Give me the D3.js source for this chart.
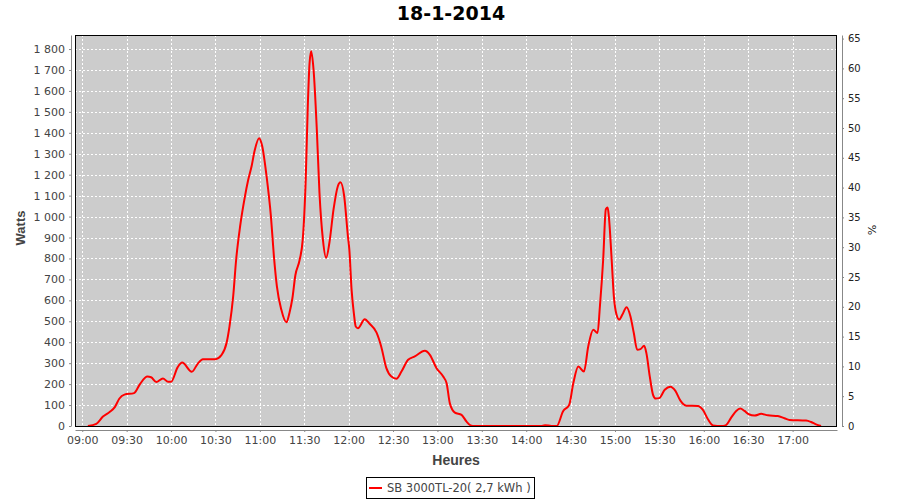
<!DOCTYPE html>
<html><head><meta charset="utf-8">
<script src="https://cdn.jsdelivr.net/npm/d3@7"></script>
<style>body{margin:0;background:#fff}svg{display:block}</style>
</head><body><svg id="c" width="900" height="500"></svg>
<script>
const title = "18-1-2014";
const seriesName = "SB 3000TL-20( 2,7 kWh )";
// minutes after 09:00
const minutes = [3.8,9.5,14,18.5,22,25,28.5,35,39,44,46.5,50,54.5,58,60,64.5,67.5,74,78,81.5,90,94,97.5,99.5,102,104,106.7,110,112,114.5,116.5,119.5,121.5,124.5,127.5,129.5,131.5,134.5,138,140,142,144,146.8,149,151,152.4,153.6,154.7,156.3,158.5,160.3,162.6,164.8,167,169.8,172.7,174.5,177,179.5,180.5,182,183.5,184.8,186.3,190.9,194.2,198.8,202,205.5,208.9,212.3,215.7,220.2,224.7,231.5,234.9,239.4,243.9,246.2,248.4,251.8,256.3,259.7,262.4,265,310,312.7,317,320.6,325,329,331.8,335.2,339,341.9,345.3,348.2,349.8,352,353.8,355,355.8,357.6,359.2,361,362.8,365,367.8,370.4,372.7,375,377.2,379.7,381.2,383.5,385.7,387.5,389.8,393.6,397.4,400.8,404.2,408.2,416,419.4,422.8,426.2,431.8,434.7,438.5,441.9,444.6,447.5,450.4,454.3,458.8,463.3,470,474.5,477.9,489.1,492.5,495.8,499.2];
const watts = [0,10,45,67,90,130,150,157,200,236,233,210,227,211,211,281,303,259,297,319,319,338,396,476,620,795,955,1099,1171,1243,1315,1374,1339,1195,1000,811,668,556,495,540,610,720,790,891,1177,1527,1733,1789,1701,1415,1113,891,803,875,1034,1145,1164,1097,907,840,650,540,475,467,510,488,447,380,276,236,226,260,316,332,359,340,276,236,204,108,64,53,21,3,0,0,4,0,0,72,100,204,284,260,380,460,444,572,795,1035,1043,1003,811,620,532,508,532,567,524,444,364,367,383,348,236,149,131,133,173,188,168,121,97,96,77,32,3,0,3,40,72,83,72,56,50,58,51,48,37,29,26,19,8,0];
const wattTicks = d3.range(0, 1801, 100);
const pctTicks = d3.range(0, 66, 5);

const base = new Date(2014, 0, 18, 9, 0, 0);
const toDate = m => new Date(base.getTime() + m * 60000);
const data = minutes.map((m, i) => ({t: toDate(m), v: watts[i]}));

const svg = d3.select("#c");
const L = 75, R = 837, T = 35, B = 426;
const x = d3.scaleTime().domain([toDate(-4.9), toDate(510)]).range([L, R]);
const y = d3.scaleLinear().domain([0, 1867]).range([B, T]);
const y2 = d3.scaleLinear().domain([0, 65.6]).range([B, T]);
const timeTicks = d3.timeMinute.every(30).range(toDate(0), toDate(481));

svg.append("text").attr("x", 451).attr("y", 20).attr("text-anchor", "middle")
  .attr("font-family", "DejaVu Sans").attr("font-weight", "bold").attr("font-size", 19)
  .text(title);

svg.append("rect").attr("x", L).attr("y", T).attr("width", R - L).attr("height", B - T).attr("fill", "#cccccc");

const grid = svg.append("g").attr("stroke", "#fff").attr("stroke-dasharray", "2,2").attr("stroke-width", 1).attr("shape-rendering", "crispEdges");
grid.selectAll("line.h").data(wattTicks.filter(d => d > 0)).join("line")
  .attr("x1", L).attr("x2", R).attr("y1", d => Math.round(y(d)) + 0.5).attr("y2", d => Math.round(y(d)) + 0.5);
grid.selectAll("line.v").data(timeTicks).join("line")
  .attr("y1", T).attr("y2", B).attr("x1", d => Math.round(x(d)) + 0.5).attr("x2", d => Math.round(x(d)) + 0.5);

const line = d3.line().x(d => x(d.t)).y(d => y(d.v)).curve(d3.curveMonotoneX);
svg.append("path").datum(data).attr("d", line).attr("fill", "none").attr("stroke", "#ff0000").attr("stroke-width", 2);

svg.append("rect").attr("x", L + 0.5).attr("y", T + 0.5).attr("width", R - L - 1).attr("height", B - T).attr("fill", "none").attr("stroke", "#000").attr("stroke-width", 1);

function styleAxis(g) {
  g.selectAll(".domain").attr("stroke", "#888");
  g.selectAll(".tick line").attr("stroke", "#888");
  g.selectAll(".tick text").attr("fill", "#444").attr("font-family", "DejaVu Sans").attr("font-size", 11);
}
const gl = svg.append("g").attr("transform", "translate(71,0)")
  .call(d3.axisLeft(y).tickValues(wattTicks).tickSize(2).tickSizeOuter(0).tickPadding(4).tickFormat(d => d3.format(",")(d).replace(",", " ")));
styleAxis(gl);
const gr = svg.append("g").attr("transform", "translate(842,0)")
  .call(d3.axisRight(y2).tickValues(pctTicks).tickSize(2).tickSizeOuter(0).tickPadding(4));
styleAxis(gr); gr.selectAll(".tick text").attr("font-size", 10).attr("fill", "#222");
const gb = svg.append("g").attr("transform", "translate(0,430)")
  .call(d3.axisBottom(x).tickValues(timeTicks).tickSize(2).tickSizeOuter(0).tickPadding(4).tickFormat(d3.timeFormat("%H:%M")));
styleAxis(gb);

svg.append("text").attr("transform", "translate(25,228) rotate(-90)").attr("text-anchor", "middle")
  .attr("font-family", "Liberation Sans").attr("font-weight", "bold").attr("font-size", 13).attr("fill", "#444").text("Watts");
svg.append("text").attr("x", 456).attr("y", 465).attr("text-anchor", "middle")
  .attr("font-family", "Liberation Sans").attr("font-weight", "bold").attr("font-size", 14).attr("fill", "#444").text("Heures");
svg.append("text").attr("transform", "translate(868,230) rotate(90)").attr("text-anchor", "middle")
  .attr("font-family", "DejaVu Sans").attr("font-size", 11).attr("fill", "#222").text("%");

const lg = svg.append("g");
lg.append("rect").attr("x", 366.5).attr("y", 477.5).attr("width", 168).attr("height", 21).attr("fill", "#fff").attr("stroke", "#000");
lg.append("line").attr("x1", 369).attr("x2", 382).attr("y1", 488).attr("y2", 488).attr("stroke", "#ff0000").attr("stroke-width", 2);
lg.append("text").attr("x", 387).attr("y", 492).attr("font-family", "DejaVu Sans").attr("font-size", 11.5).attr("fill", "#444").text(seriesName);
</script></body></html>
